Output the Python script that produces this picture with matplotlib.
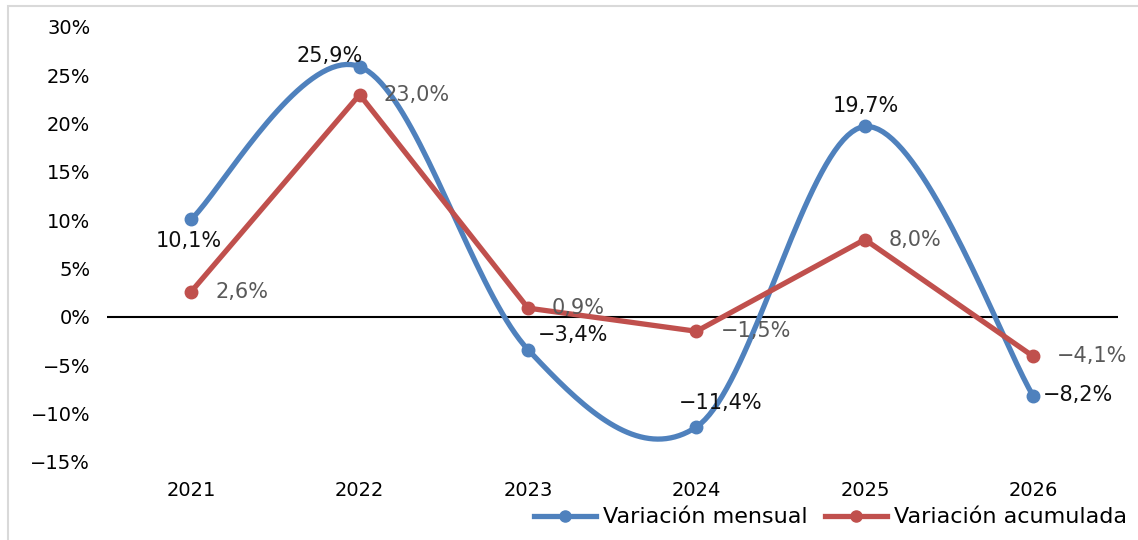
import numpy as np
import matplotlib
matplotlib.use("Agg")
import matplotlib.pyplot as plt
from matplotlib.lines import Line2D

# Datos
anios = ["2021", "2022", "2023", "2024", "2025", "2026"]
mensual = [10.1, 25.9, -3.4, -11.4, 19.7, -8.2]
acumulada = [2.6, 23.0, 0.9, -1.5, 8.0, -4.1]

azul = "#4F81BD"
rojo = "#C0504D"

plt.rcParams["font.family"] = ["DejaVu Sans"]


# Curva suavizada tipo Excel (Bezier con puntos de control de Catmull-Rom)
def suavizar(x, y, n=40):
    x = np.asarray(x, float)
    y = np.asarray(y, float)
    px = np.concatenate([[x[0]], x, [x[-1]]])
    py = np.concatenate([[y[0]], y, [y[-1]]])
    xs, ys = [], []
    t = np.linspace(0, 1, n)
    for i in range(1, len(px) - 2):
        p0 = np.array([px[i], py[i]])
        p3 = np.array([px[i + 1], py[i + 1]])
        c1 = p0 + (np.array([px[i + 1], py[i + 1]]) - np.array([px[i - 1], py[i - 1]])) / 6
        c2 = p3 - (np.array([px[i + 2], py[i + 2]]) - np.array([px[i], py[i]])) / 6
        b = ((1 - t) ** 3)[:, None] * p0 + (3 * (1 - t) ** 2 * t)[:, None] * c1 \
            + (3 * (1 - t) * t ** 2)[:, None] * c2 + (t ** 3)[:, None] * p3
        xs.extend(b[:, 0])
        ys.extend(b[:, 1])
    return np.array(xs), np.array(ys)


def pct(v):
    return f"{v:.1f}%".replace(".", ",").replace("-", "\u2212")


fig = plt.figure(figsize=(11.38, 5.4), dpi=100)
ax = fig.add_axes([0.094, 0.145, 0.888, 0.805])

x = np.arange(len(anios))
sx, sy = suavizar(x, mensual)
ax.plot(sx, sy, color=azul, lw=3.8, solid_capstyle="round", zorder=3)
ax.plot(x, mensual, "o", color=azul, ms=9, zorder=4)
ax.plot(x, acumulada, "-o", color=rojo, lw=3.8, ms=9, zorder=3)

ax.axhline(0, color="black", lw=1.5, zorder=2)

# Etiquetas de datos (mensual)
off_m = [(-2, -22, "center"), (-30, 11, "center"), (10, 15, "left"),
         (24, 24, "center"), (1, 20, "center"), (10, 1, "left")]
for i, v in enumerate(mensual):
    dx, dy, ha = off_m[i]
    ax.annotate(pct(v), (x[i], v), xytext=(dx, dy),
                textcoords="offset pixels", ha=ha, va="center",
                fontsize=15, color="#111111", zorder=5)

# Etiquetas de datos (acumulada)
for i, v in enumerate(acumulada):
    ax.annotate(pct(v), (x[i], v), xytext=(24, 0),
                textcoords="offset pixels", ha="left", va="center",
                fontsize=15, color="#595959", zorder=5)

ax.set_xlim(-0.5, 5.5)
ax.set_ylim(-15, 30)
ax.set_xticks(x)
ax.set_xticklabels(anios)
yt = np.arange(-15, 31, 5)
ax.set_yticks(yt)
ax.set_yticklabels([f"{v}%".replace("-", "\u2212") for v in yt])
ax.tick_params(axis="both", length=0, labelsize=14, colors="black")
ax.tick_params(axis="y", pad=12)
ax.tick_params(axis="x", pad=14)
for s in ax.spines.values():
    s.set_visible(False)

handles = [Line2D([0], [0], color=azul, lw=3.8, marker="o", ms=8),
           Line2D([0], [0], color=rojo, lw=3.8, marker="o", ms=8)]
fig.legend(handles, ["Variación mensual", "Variación acumulada"],
           loc="center right", bbox_to_anchor=(1.008, 0.042), ncol=2,
           frameon=False, fontsize=16, handlelength=2.8, handletextpad=0.3,
           columnspacing=0.8)

# Borde del gráfico
fig.patches.append(plt.Rectangle((8 / 1138, -0.1), 1.2, 1.1 - 6 / 540,
                                 transform=fig.transFigure, fill=False,
                                 edgecolor="#D9D9D9", lw=1.5))

fig.savefig("out.png", dpi=100)
